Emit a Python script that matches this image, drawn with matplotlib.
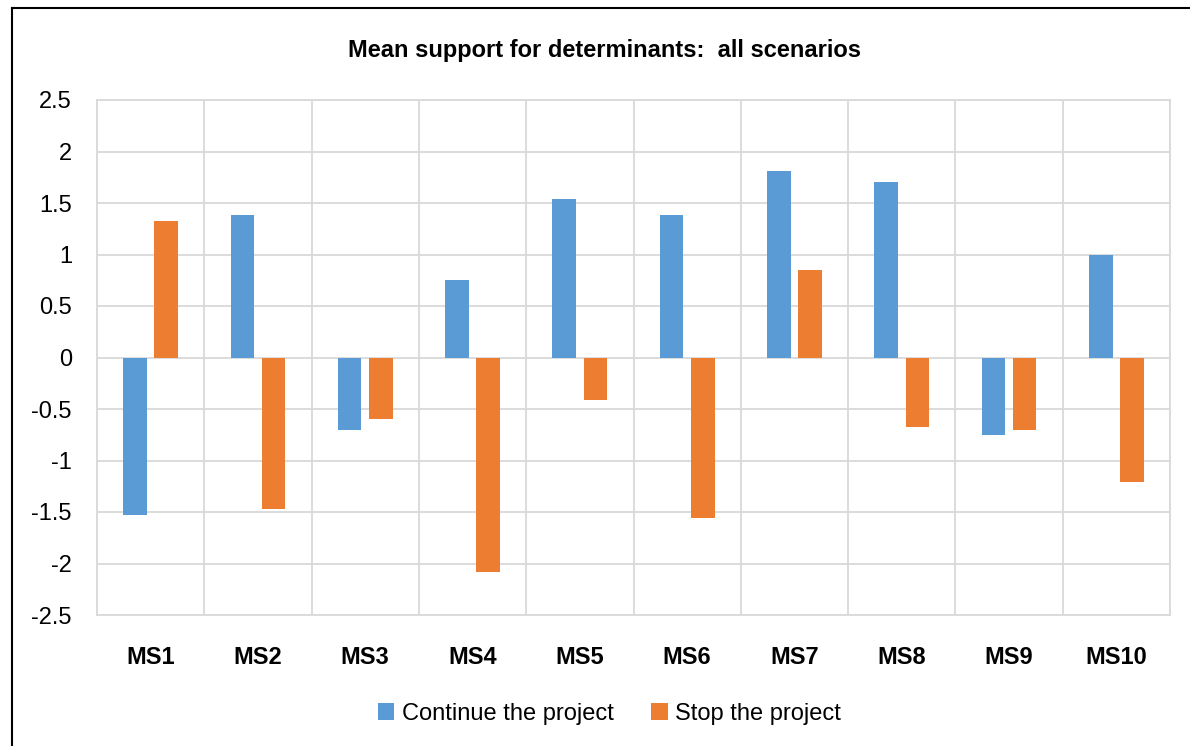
import numpy as np
import matplotlib
matplotlib.use('Agg')
import matplotlib.pyplot as plt
from matplotlib.lines import Line2D

categories = ['MS1', 'MS2', 'MS3', 'MS4', 'MS5', 'MS6', 'MS7', 'MS8', 'MS9', 'MS10']
continue_vals = [-1.53, 1.38, -0.70, 0.75, 1.54, 1.38, 1.81, 1.70, -0.75, 1.00]
stop_vals = [1.33, -1.47, -0.60, -2.08, -0.41, -1.56, 0.85, -0.67, -0.70, -1.21]
yticks = [-2.5, -2, -1.5, -1, -0.5, 0, 0.5, 1, 1.5, 2, 2.5]

plt.rcParams['font.family'] = ['Liberation Sans', 'DejaVu Sans']

fig = plt.figure(figsize=(11.9, 7.46), dpi=100)
ax = fig.add_axes([97/1190, 131/746, 1073/1190, 515/746])

x = np.arange(len(categories))
w = 0.22
ax.bar(x - 0.145, continue_vals, w, color='#5b9bd5', label='Continue the project', zorder=3)
ax.bar(x + 0.145, stop_vals, w, color='#ed7d31', label='Stop the project', zorder=3)

ax.set_xlim(-0.5, len(categories) - 0.5)
ax.set_ylim(-2.5, 2.5)
ax.set_yticks(yticks)
ax.set_yticklabels(['{:g}'.format(v) for v in yticks], fontsize=17)
ax.set_xticks(x)
ax.set_xticklabels(categories, fontsize=17, fontweight='bold')
ax.set_xticks(np.arange(-0.5, len(categories)), minor=True)
ax.tick_params(axis='y', length=0, pad=18)
ax.tick_params(axis='x', length=0, pad=22)
ax.tick_params(axis='x', which='minor', length=0)
ax.grid(axis='y', color='#d9d9d9', lw=1.3, zorder=0)
ax.grid(axis='x', which='minor', color='#d9d9d9', lw=1.3, zorder=0)
ax.grid(axis='x', which='major', visible=False)
for s in ax.spines.values():
    s.set_color('#d9d9d9')
    s.set_linewidth(1.3)

fig.text(0.508, 1 - 50/746, 'Mean support for determinants:  all scenarios', fontsize=17,
         fontweight='bold', ha='center', va='center')

handles, labels = ax.get_legend_handles_labels()
fig.legend(handles, labels, loc='center', bbox_to_anchor=(0.512, 1 - 714/746), ncol=2,
           frameon=False, fontsize=17, handlelength=0.7, handleheight=0.7,
           handletextpad=0.3, columnspacing=1.6)

# frame lines of the original screenshot (left and top only)
fig.add_artist(Line2D([12/1190, 12/1190], [0, 1 - 8/746], color='black', lw=1.5))
fig.add_artist(Line2D([12/1190, 1], [1 - 8/746, 1 - 8/746], color='black', lw=1.5))

fig.savefig('out.png', dpi=100)
